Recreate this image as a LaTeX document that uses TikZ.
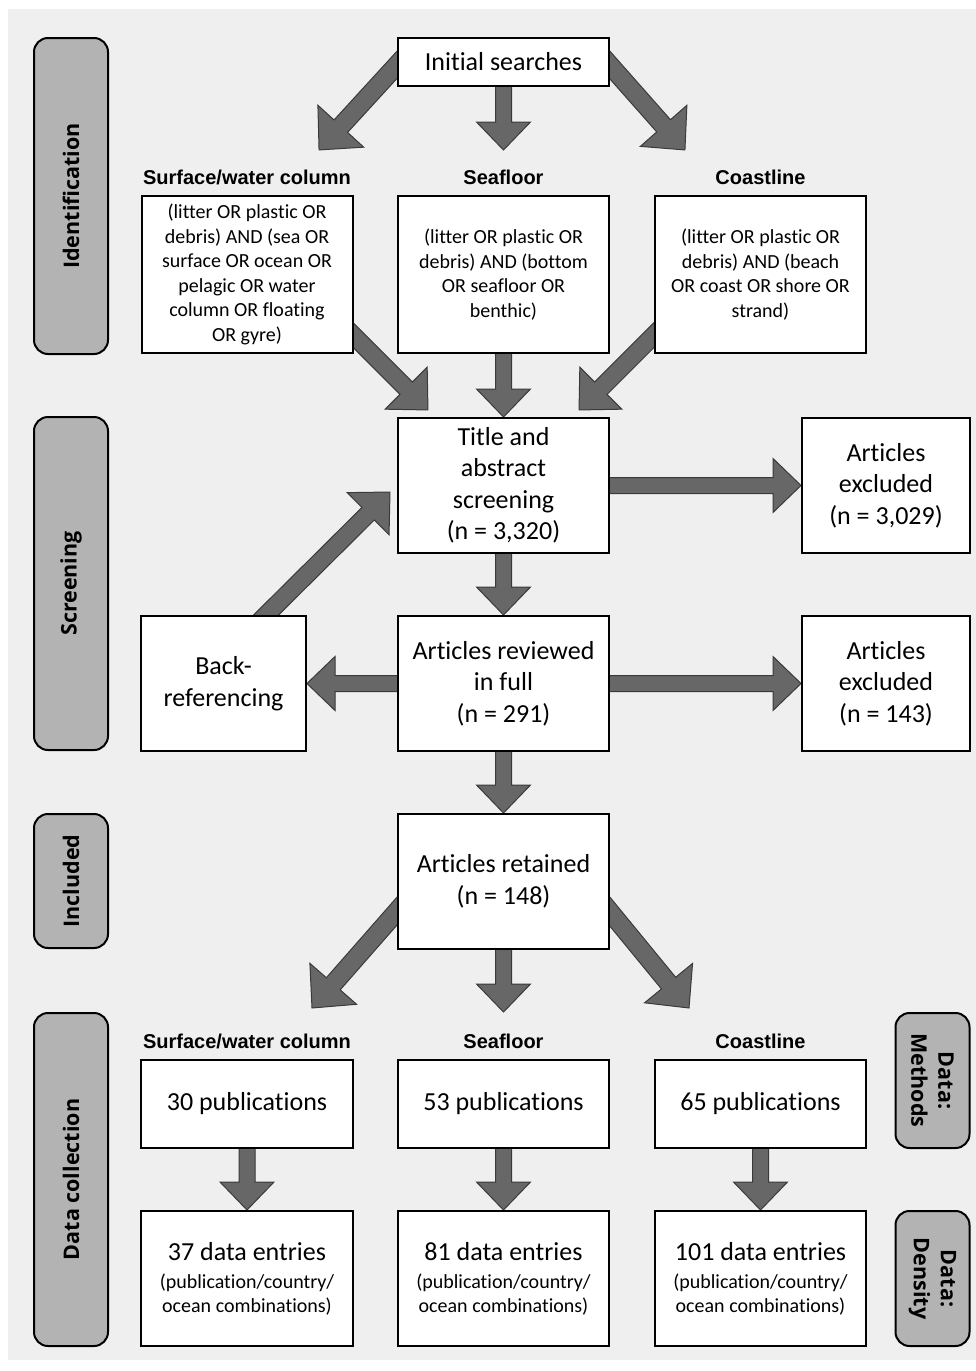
\documentclass[tikz,border=0pt]{standalone}
\usepackage{fontspec}
\setmainfont{Carlito}[RawFeature={-liga;-clig;-calt;-dlig}]
\newfontfamily\headfont{Liberation Sans}
\newfontfamily\phasefont{Open Sans}
\usetikzlibrary{calc,backgrounds}

\definecolor{bggrey}{HTML}{EFEFEF}
\definecolor{phasegrey}{HTML}{B3B3B3}
\definecolor{arrowgrey}{HTML}{676767}
\definecolor{arrowedge}{HTML}{3A3A3A}

\tikzset{
  box/.style={draw=black, line width=2pt, fill=white, align=center, inner sep=0pt,
    font=\fontsize{26}{31.5}\selectfont},
  querybox/.style={box, minimum width=211pt, minimum height=157pt,
    font=\fontsize{20}{24.6}\selectfont},
  stagebox/.style={box, minimum width=211pt, minimum height=135pt},
  phase/.style={draw=black, line width=2pt, rounded corners=14pt, fill=phasegrey,
    align=center, inner sep=0pt, minimum height=74pt,
    font=\phasefont\bfseries\fontsize{21.5}{27}\selectfont},
  colhead/.style={font=\headfont\bfseries\fontsize{20}{24}\selectfont},
  fatarrow/.style={fill=arrowgrey, draw=arrowedge, line width=1pt, line join=miter},
}

% block arrow from #2 to #3, #1 scales shaft and head
\newcommand{\fatarrow}[3][1]{%
  \draw[fatarrow] let \p1=($(#3)-(#2)$), \n1={atan2(\y1,\x1)}, \n2={veclen(\x1,\y1)},
      \n3={28*#1}, \n4={8*#1}, \n5={27*#1} in
    [shift={(#2)}, rotate=\n1]
    (0pt,{-\n4*1pt}) -- ({(\n2-\n3)*1pt},{-\n4*1pt}) -- ({(\n2-\n3)*1pt},{-\n5*1pt})
    -- ({\n2*1pt},0pt) -- ({(\n2-\n3)*1pt},{\n5*1pt}) -- ({(\n2-\n3)*1pt},{\n4*1pt})
    -- (0pt,{\n4*1pt}) -- cycle;}

\newcommand{\subline}{\fontsize{20}{24}\selectfont}

\begin{document}
\begin{tikzpicture}[x=1pt,y=-1pt]
  \useasboundingbox (0,0) rectangle (976,1371);

  %PHASES
  \node[phase, rotate=90, minimum width=316pt] (ident) at (71,196) {Identification};
  \node[phase, rotate=90, minimum width=333pt] (screen) at (71,583.5) {Screening};
  \node[phase, rotate=90, minimum width=134pt] (incl) at (71,881) {Included};
  \node[phase, rotate=90, minimum width=333pt] (collect) at (71,1179.5) {Data collection};
  \node[phase, rotate=-90, minimum width=135pt] (methods) at (932.5,1080.5) {Data:\\Methods};
  \node[phase, rotate=-90, minimum width=135pt] (density) at (932.5,1278.5) {Data:\\Density};

  %SEARCHES
  \node[box, minimum width=211pt, minimum height=48pt] (init) at (503.5,62) {Initial searches};
  \node[colhead] (hsw) at (247,177) {Surface/water column};
  \node[colhead] (hsf) at (503.5,177) {Seafloor};
  \node[colhead] (hcl) at (760.5,177) {Coastline};
  \node[querybox] (sw) at (247,274.5) {(litter OR plastic OR\\debris) AND (sea OR\\surface OR ocean OR\\pelagic OR water\\column OR floating\\OR gyre)};
  \node[querybox] (sf) at (503.5,274.5) {(litter OR plastic OR\\debris) AND (bottom\\OR seafloor OR\\benthic)};
  \node[querybox] (cl) at (760.5,274.5) {(litter OR plastic OR\\debris) AND (beach\\OR coast OR shore OR\\strand)};

  %SCREENING
  \node[stagebox] (title) at (503.5,485.5) {Title and\\abstract\\screening\\(n = 3,320)};
  \node[stagebox, minimum width=168pt] (exc1) at (886,485.5) {Articles\\excluded\\(n = 3,029)};
  \node[stagebox, minimum width=165pt] (back) at (223.5,683.5) {Back-\\referencing};
  \node[stagebox] (rev) at (503.5,683.5) {Articles reviewed\\in full\\(n = 291)};
  \node[stagebox, minimum width=168pt] (exc2) at (886,683.5) {Articles\\excluded\\(n = 143)};
  \node[stagebox] (ret) at (503.5,881.5) {Articles retained\\(n = 148)};

  %DATA COLLECTION
  \node[colhead] (hsw2) at (247,1041) {Surface/water column};
  \node[colhead] (hsf2) at (503.5,1041) {Seafloor};
  \node[colhead] (hcl2) at (760.5,1041) {Coastline};
  \node[box, minimum width=212pt, minimum height=88pt] (pub1) at (247,1104) {30 publications};
  \node[box, minimum width=211pt, minimum height=88pt] (pub2) at (503.5,1104) {53 publications};
  \node[box, minimum width=211pt, minimum height=88pt] (pub3) at (760.5,1104) {65 publications};
  \node[stagebox, minimum width=212pt] (dat1) at (247,1278.5) {37 data entries\\[-3.5pt]\subline (publication/country/\\[-7.5pt]\subline ocean combinations)};
  \node[stagebox] (dat2) at (503.5,1278.5) {81 data entries\\[-3.5pt]\subline (publication/country/\\[-7.5pt]\subline ocean combinations)};
  \node[stagebox] (dat3) at (760.5,1278.5) {101 data entries\\[-3.5pt]\subline (publication/country/\\[-7.5pt]\subline ocean combinations)};

  %FREE ENDS
  \coordinate (initl) at (406,55);   \coordinate (swtip) at (319,150);
  \coordinate (sftip) at (503.5,150);
  \coordinate (initr) at (601,55);   \coordinate (cltip) at (685,150);
  \coordinate (swout) at (340,322);  \coordinate (titlel) at (428,410);
  \coordinate (clout) at (667,322);  \coordinate (titler) at (579,410);
  \coordinate (backout) at (258,623); \coordinate (titleb) at (390,492);
  \coordinate (retl) at (405,902);   \coordinate (pubtipl) at (312,1008);
  \coordinate (pubtipm) at (503.5,1012);
  \coordinate (retr) at (602,902);   \coordinate (pubtipr) at (689,1008);

  %ARROWS
  \begin{scope}[on background layer]
    \fill[bggrey] (8,9) rectangle (976,1360);
    \fatarrow[1.15]{initl}{swtip}
    \fatarrow{init}{sftip}
    \fatarrow[1.15]{initr}{cltip}
    \fatarrow[1.1]{swout}{titlel}
    \fatarrow{sf}{title.north}
    \fatarrow[1.1]{clout}{titler}
    \fatarrow{title}{exc1.west}
    \fatarrow{title}{rev.north}
    \fatarrow{rev}{back.east}
    \fatarrow{rev}{exc2.west}
    \fatarrow[1.1]{backout}{titleb}
    \fatarrow{rev}{ret.north}
    \fatarrow[1.15]{retl}{pubtipl}
    \fatarrow{ret}{pubtipm}
    \fatarrow[1.15]{retr}{pubtipr}
    \fatarrow{pub1}{dat1.north}
    \fatarrow{pub2}{dat2.north}
    \fatarrow{pub3}{dat3.north}
  \end{scope}
\end{tikzpicture}
\end{document}
